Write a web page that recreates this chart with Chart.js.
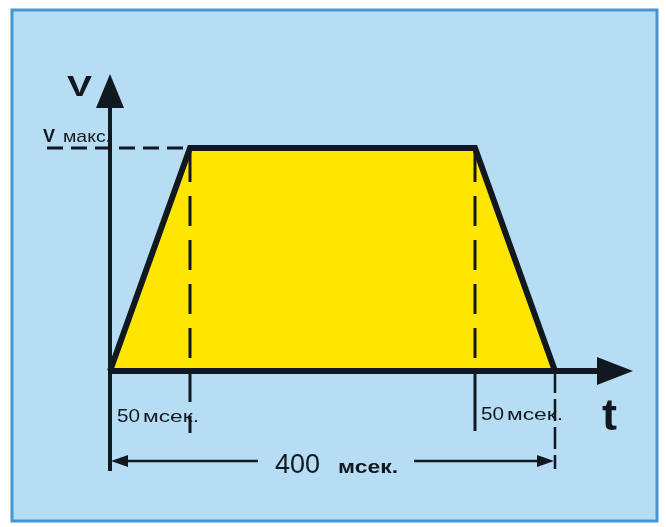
<!DOCTYPE html>
<html>
<head>
<meta charset="utf-8">
<script src="https://cdn.jsdelivr.net/npm/chart.js@4/dist/chart.umd.min.js"></script>
<style>
  html, body { margin: 0; padding: 0; background: #ffffff; }
  #wrap { width: 666px; height: 527px; position: relative; }
</style>
</head>
<body>
<div id="wrap"><canvas id="c" width="666" height="527"></canvas></div>
<script>
// Speed profile: linear acceleration, constant speed, linear braking
const timeMs = [0, 50, 350, 400];          // time points, ms
const speedRel = [0, 1, 1, 0];             // speed as a fraction of Vмакс
const rampMs = 50;                         // acceleration / braking time
const totalMs = 400;                       // whole move
const rampNumber = '50';
const totalNumber = '400';
const unitLabel = 'мсек.';
const yLabel = 'V';
const vmaxMain = 'V';
const vmaxSub = 'макс.';
const xLabel = 't';

// The time axis is schematic: ramps are drawn wider than to scale
const axisKnots = [0, 50, 350, 400];
const axisFracs = [0, 80 / 445, 365 / 445, 1];

function toFrac(v) {
  for (let i = 1; i < axisKnots.length; i++) {
    if (v <= axisKnots[i] || i === axisKnots.length - 1) {
      const a = axisKnots[i - 1], b = axisKnots[i];
      return axisFracs[i - 1] + (v - a) / (b - a) * (axisFracs[i] - axisFracs[i - 1]);
    }
  }
  return 0;
}
function fromFrac(f) {
  for (let i = 1; i < axisFracs.length; i++) {
    if (f <= axisFracs[i] || i === axisFracs.length - 1) {
      const a = axisFracs[i - 1], b = axisFracs[i];
      return axisKnots[i - 1] + (f - a) / (b - a) * (axisKnots[i] - axisKnots[i - 1]);
    }
  }
  return 0;
}

class SchematicTimeScale extends Chart.LinearScale {
  getPixelForValue(value) {
    return this.left + toFrac(value) * this.width;
  }
  getValueForPixel(pixel) {
    return fromFrac((pixel - this.left) / this.width);
  }
}
SchematicTimeScale.id = 'schematicTime';
SchematicTimeScale.defaults = Chart.LinearScale.defaults;
Chart.register(SchematicTimeScale);

const INK = '#121820';
const PANEL = '#b6ddf4';
const PANEL_EDGE = '#4796d2';
const FILL = '#ffe600';
const FONT = '"Liberation Sans", Arial, sans-serif';

function arrowHead(ctx, tipX, tipY, dir, len, half) {
  ctx.beginPath();
  if (dir === 'up') {
    ctx.moveTo(tipX, tipY);
    ctx.lineTo(tipX - half, tipY + len);
    ctx.lineTo(tipX + half, tipY + len);
  } else if (dir === 'right') {
    ctx.moveTo(tipX, tipY);
    ctx.lineTo(tipX - len, tipY - half);
    ctx.lineTo(tipX - len, tipY + half);
  } else if (dir === 'left') {
    ctx.moveTo(tipX, tipY);
    ctx.lineTo(tipX + len, tipY - half);
    ctx.lineTo(tipX + len, tipY + half);
  }
  ctx.closePath();
  ctx.fill();
}

function vline(ctx, x, y1, y2, width, dash) {
  ctx.save();
  ctx.lineWidth = width;
  ctx.setLineDash(dash || []);
  ctx.beginPath();
  ctx.moveTo(x, y1);
  ctx.lineTo(x, y2);
  ctx.stroke();
  ctx.restore();
}

// wide lettering: stretch text horizontally to a given width
function wideText(ctx, text, x, y, font, width) {
  ctx.save();
  ctx.font = font;
  const w = ctx.measureText(text).width;
  ctx.translate(x, y);
  ctx.scale(width / w, 1);
  ctx.fillText(text, 0, 0);
  ctx.restore();
}

const panelPlugin = {
  id: 'panel',
  beforeDraw(chart) {
    const ctx = chart.ctx;
    ctx.save();
    ctx.fillStyle = '#ffffff';
    ctx.fillRect(0, 0, chart.width, chart.height);
    ctx.fillStyle = PANEL;
    ctx.fillRect(12, 10, 645, 511);
    ctx.strokeStyle = PANEL_EDGE;
    ctx.lineWidth = 3;
    ctx.strokeRect(12, 10, 645, 511);
    ctx.restore();
  }
};

const diagramPlugin = {
  id: 'diagram',
  afterDatasetsDraw(chart) {
    const ctx = chart.ctx;
    const xs = chart.scales.x, ys = chart.scales.y;
    const x0 = xs.getPixelForValue(0);
    const xR = xs.getPixelForValue(rampMs);
    const xB = xs.getPixelForValue(totalMs - rampMs);
    const xE = xs.getPixelForValue(totalMs);
    const y0 = ys.getPixelForValue(0);
    const yMax = ys.getPixelForValue(1);

    ctx.save();
    ctx.strokeStyle = INK;
    ctx.fillStyle = INK;

    // Vмакс reference line
    ctx.save();
    ctx.lineWidth = 3;
    ctx.setLineDash([16, 8]);
    ctx.beginPath();
    ctx.moveTo(x0 - 63, yMax);
    ctx.lineTo(xR, yMax);
    ctx.stroke();
    ctx.restore();

    // ramp boundaries
    vline(ctx, xR, yMax + 4, y0 + 62, 3, [30, 14]);
    vline(ctx, xB, yMax + 4, y0, 3, [30, 14]);
    vline(ctx, xB, y0, y0 + 60, 3);
    vline(ctx, xE, y0, y0 + 98, 2.5, [22, 6]);

    // V axis
    vline(ctx, x0, y0 + 100, 100, 4);
    arrowHead(ctx, x0, 74, 'up', 34, 14);

    // t axis
    ctx.save();
    ctx.lineWidth = 6;
    ctx.beginPath();
    ctx.moveTo(x0 - 2, y0);
    ctx.lineTo(600, y0);
    ctx.stroke();
    ctx.restore();
    arrowHead(ctx, 633, y0, 'right', 36, 14);

    // total duration dimension line
    const yd = y0 + 90;
    ctx.save();
    ctx.lineWidth = 2.5;
    ctx.beginPath();
    ctx.moveTo(x0 + 10, yd);
    ctx.lineTo(258, yd);
    ctx.moveTo(414, yd);
    ctx.lineTo(xE - 10, yd);
    ctx.stroke();
    ctx.restore();
    arrowHead(ctx, x0 + 1, yd, 'left', 17, 6);
    arrowHead(ctx, xE - 1, yd, 'right', 17, 6);

    // labels
    ctx.textBaseline = 'alphabetic';
    ctx.textAlign = 'left';
    wideText(ctx, yLabel, 67, 96, 'bold 30px ' + FONT, 25);

    wideText(ctx, vmaxMain, 43, 142, 'bold 19px ' + FONT, 12);
    wideText(ctx, vmaxSub, 63, 142, '17px ' + FONT, 48);

    wideText(ctx, rampNumber, 117, 422, '19px ' + FONT, 23);
    wideText(ctx, unitLabel, 143, 422, '17px ' + FONT, 56);
    wideText(ctx, rampNumber, 481, 420, '19px ' + FONT, 23);
    wideText(ctx, unitLabel, 507, 420, '17px ' + FONT, 56);

    wideText(ctx, totalNumber, 275, 473, '28px ' + FONT, 45);
    wideText(ctx, unitLabel, 338, 473, 'bold 19px ' + FONT, 60);

    wideText(ctx, xLabel, 602, 430, 'bold 44px ' + FONT, 15);

    ctx.restore();
  }
};

new Chart(document.getElementById('c'), {
  type: 'line',
  data: {
    datasets: [{
      data: timeMs.map((t, i) => ({ x: t, y: speedRel[i] })),
      borderColor: INK,
      borderWidth: 6,
      borderJoinStyle: 'miter',
      backgroundColor: FILL,
      fill: 'origin',
      pointRadius: 0,
      tension: 0,
      clip: false
    }]
  },
  options: {
    responsive: false,
    animation: false,
    devicePixelRatio: 1,
    layout: { padding: { left: 110, right: 111, top: 148, bottom: 156 } },
    plugins: { legend: { display: false }, tooltip: { enabled: false } },
    scales: {
      x: { type: 'schematicTime', min: 0, max: totalMs, display: false },
      y: { type: 'linear', min: 0, max: 1, display: false }
    }
  },
  plugins: [panelPlugin, diagramPlugin]
});
</script>
</body>
</html>
